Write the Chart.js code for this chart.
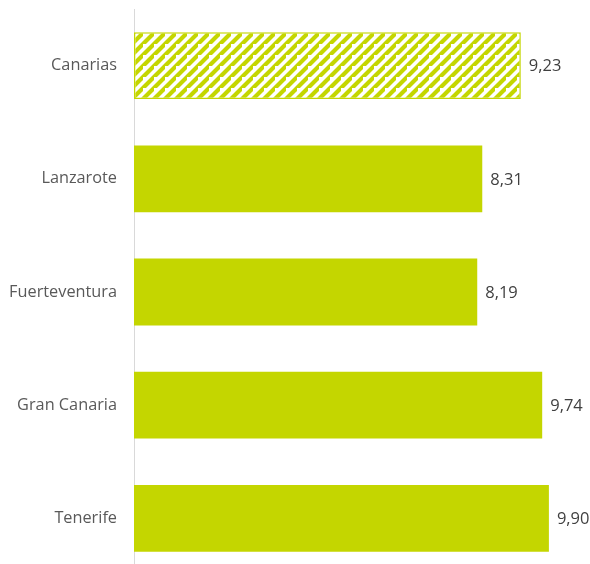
<!DOCTYPE html>
<html>
<head>
<meta charset="utf-8">
<script src="https://cdn.jsdelivr.net/npm/chart.js@4.4.0/dist/chart.umd.min.js"></script>
<style>
  html, body { margin: 0; padding: 0; background: #fff; overflow: hidden; }
  #wrap { width: 595px; height: 575px; position: relative; }
</style>
</head>
<body>
<div id="wrap"><canvas id="barChart"></canvas></div>
<script>
const islas = ["Canarias", "Lanzarote", "Fuerteventura", "Gran Canaria", "Tenerife"];
const valores = [9.23, 8.31, 8.19, 9.74, 9.9];

const verde = "#c4d600";

function makeHatch() {
  const size = 11;
  const c = document.createElement("canvas");
  c.width = size;
  c.height = size;
  const g = c.getContext("2d");
  g.fillStyle = "#fff";
  g.fillRect(0, 0, size, size);
  g.strokeStyle = verde;
  g.lineWidth = 4.2;
  g.beginPath();
  g.moveTo(-size, size * 2);
  g.lineTo(size * 2, -size);
  g.moveTo(-size * 2, size);
  g.lineTo(size, -size * 2);
  g.moveTo(0, size * 2);
  g.lineTo(size * 2, 0);
  g.stroke();
  return g.createPattern(c, "repeat");
}

// etiquetas de valor al final de cada barra
const valueLabels = {
  id: "valueLabels",
  afterDatasetsDraw(chart) {
    const ctx = chart.ctx;
    const meta = chart.getDatasetMeta(0);
    ctx.save();
    ctx.font = "16.5px 'Open Sans', sans-serif";
    ctx.fillStyle = "#404040";
    ctx.textAlign = "left";
    ctx.textBaseline = "middle";
    meta.data.forEach((bar, i) => {
      const txt = valores[i].toFixed(2).replace(".", ",");
      ctx.fillText(txt, bar.x + 8, bar.y + 1);
    });
    ctx.restore();
  },
};

const ctx = document.getElementById("barChart").getContext("2d");
const hatch = makeHatch();

new Chart(ctx, {
  type: "bar",
  data: {
    labels: islas,
    datasets: [
      {
        data: valores,
        backgroundColor: islas.map((n, i) => (i === 0 ? hatch : verde)),
        borderColor: islas.map((n, i) => (i === 0 ? verde : "rgba(0,0,0,0)")),
        borderWidth: islas.map((n, i) => (i === 0 ? 1.5 : 0)),
        borderSkipped: false,
        categoryPercentage: 1,
        barPercentage: 0.59,
      },
    ],
  },
  options: {
    indexAxis: "y",
    responsive: true,
    maintainAspectRatio: false,
    animation: false,
    layout: { padding: { top: 9, bottom: 0, left: 0, right: 0 } },
    plugins: {
      legend: { display: false },
      tooltip: { enabled: false },
    },
    scales: {
      x: {
        display: false,
        min: 0,
        max: 11,
      },
      y: {
        grid: { display: false, drawTicks: false },
        border: { display: true, color: "#d9d9d9", width: 1 },
        ticks: {
          color: "#595959",
          padding: 17,
          font: { size: 16.3, family: "'Open Sans', sans-serif" },
        },
        afterFit(scale) {
          scale.width = 134;
          scale.paddingTop = 0;
          scale.paddingBottom = 0;
        },
      },
    },
  },
  plugins: [valueLabels],
});
</script>
</body>
</html>
